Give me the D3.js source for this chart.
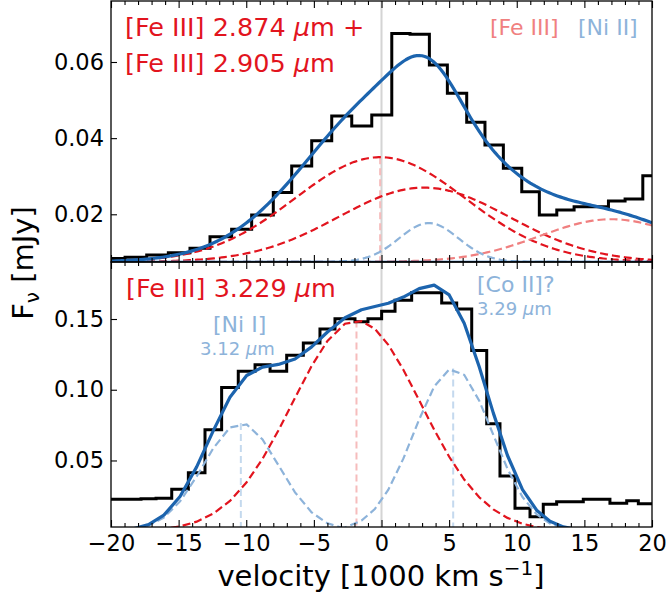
<!DOCTYPE html>
<html><head><meta charset="utf-8">
<script src="https://cdn.jsdelivr.net/npm/d3@7"></script>
<style>body{margin:0;background:#fff} text{font-family:"DejaVu Sans",sans-serif}</style>
</head><body><svg id="c" width="666" height="600"></svg>
<script>
// ---------------- data ----------------
const velRange = [-20, 20];
const xMajorTicks = [-20, -15, -10, -5, 0, 5, 10, 15, 20];
const xMinorTicks = [-19,-18,-17,-16,-14,-13,-12,-11,-9,-8,-7,-6,-4,-3,-2,-1,1,2,3,4,6,7,8,9,11,12,13,14,16,17,18,19];
const topYTicks = [0.02, 0.04, 0.06];
const botYTicks = [0.05, 0.10, 0.15];
const topYDomain = [0.00747, 0.07602];
const botYDomain = [0.00297, 0.1903];

// top panel histogram: bin edges (1000 km/s) and flux (mJy)
const topEdges = [-20, -18.96, -17.36, -15.76, -14.16, -12.68, -11.08, -9.60, -8.00, -6.64, -5.16, -3.68, -2.20, -0.72,
  0.76, 2.11, 3.54, 4.87, 6.30, 7.65, 9.01, 10.37, 11.67, 12.96, 14.24, 15.50, 16.78, 18.01, 19.32, 20];
const topFlux = [0.0084, 0.0087, 0.0093, 0.0099, 0.0111, 0.0141, 0.0161, 0.0198, 0.0257, 0.0327, 0.0393, 0.0458, 0.0432, 0.0461,
  0.0675, 0.0673, 0.0592, 0.0518, 0.0442, 0.0382, 0.0321, 0.0259, 0.0198, 0.0211, 0.0220, 0.0220, 0.0235, 0.0240, 0.0301];

// bottom panel histogram
const botEdges = [-20, -18.89, -17.78, -16.67, -15.51, -14.28, -13.05, -11.82, -10.59, -9.35, -8.24, -7.01, -5.78, -4.55, -3.44,
  -1.96, -1.00, 0.01, 1.00, 2.23, 3.34, 4.45, 5.56, 6.67, 7.78, 8.76, 9.87, 10.98, 11.96, 12.95, 13.94, 14.92, 15.91, 16.89,
  18.13, 18.99, 20];
const botFlux = [0.0226, 0.0226, 0.0230, 0.0233, 0.0297, 0.0414, 0.0717, 0.1016, 0.1130, 0.1177, 0.1130, 0.1243, 0.1331, 0.1430,
  0.1501, 0.1480, 0.1501, 0.1555, 0.1632, 0.1685, 0.1685, 0.1614, 0.1571, 0.1278, 0.0759, 0.0391, 0.0162, 0.0103, 0.0190,
  0.0209, 0.0209, 0.0226, 0.0226, 0.0197, 0.0216, 0.0194];

// Gaussian fit components (center [1000 km/s], sigma, amplitude [mJy])
const topContinuum = 0.0075;
const topCompNames   = ["[Fe III] 2.874", "[Fe III] 2.905", "[Fe III]", "[Ni II]"];
const topCompCenters = [-0.1, 3.14, 17.0, 3.5];
const topCompSigmas  = [6.3, 6.3, 5.3, 2.2];
const topCompAmps    = [0.0275, 0.0195, 0.0112, 0.0102];

const botContinuum = 0.0;
const botCompNames   = ["[Fe III] 3.229", "[Ni I] 3.12", "[Co II] 3.29"];
const botCompCenters = [-1.85, -10.4, 5.3];
const botCompSigmas  = [4.75, 2.8, 2.9];
const botCompAmps    = [0.149, 0.0764, 0.115];

// ---------------- drawing ----------------
const svg = d3.select('#c');
const TICK_FS = '22.5px', MAIN_FS = '25.5px', SUB_FS = '22px', SMALL_FS = '18px', AX_FS = '29px';
const RED = '#e2141e', PINK = '#f08080', LBLUE = '#8db3da', BLUE = '#1c64ae';
const PALE_RED = '#f6bcbc', PALE_BLUE = '#c4d9ee';

const x = d3.scaleLinear().domain(velRange).range([111, 652]);
const panels = [
  { y: d3.scaleLinear().domain(topYDomain).range([262, 1]), t: 1, b: 262, ticks: topYTicks, id: 'ct' },
  { y: d3.scaleLinear().domain(botYDomain).range([527, 262]), t: 262, b: 527, ticks: botYTicks, id: 'cb' }
];
const defs = svg.append('defs');
panels.forEach(p => {
  defs.append('clipPath').attr('id', p.id).append('rect')
    .attr('x', x(velRange[0])).attr('y', p.t).attr('width', x(velRange[1]) - x(velRange[0])).attr('height', p.b - p.t);
});

function gauss(v, c, s, a) { return a * Math.exp(-((v - c) * (v - c)) / (2 * s * s)); }

function drawPanel(p, edges, flux, cont, centers, sigmas, amps, colors, sampleV, vlines) {
  const g = svg.append('g').attr('clip-path', `url(#${p.id})`);
  g.append('line').attr('x1', x(0)).attr('x2', x(0)).attr('y1', p.t).attr('y2', p.b)
    .attr('stroke', '#d4d4d4').attr('stroke-width', 2);
  vlines.forEach(i => {
    g.append('line').attr('x1', x(centers[i])).attr('x2', x(centers[i]))
      .attr('y1', p.y(cont + amps[i])).attr('y2', p.b)
      .attr('stroke', colors[i] === RED ? PALE_RED : PALE_BLUE).attr('stroke-width', 2).attr('stroke-dasharray', '7,4');
  });
  const pts = flux.map((f, i) => [edges[i], f]);
  pts.push([edges[edges.length - 1], flux[flux.length - 1]]);
  g.append('path').datum(pts)
    .attr('d', d3.line().x(d => x(d[0])).y(d => p.y(d[1])).curve(d3.curveStepAfter))
    .attr('fill', 'none').attr('stroke', '#000').attr('stroke-width', 3);
  const line = d3.line().x(d => x(d[0])).y(d => p.y(d[1]));
  centers.forEach((c, i) => {
    const d = sampleV.map(v => [v, cont + gauss(v, c, sigmas[i], amps[i])]);
    g.append('path').datum(d).attr('d', line).attr('fill', 'none')
      .attr('stroke', colors[i]).attr('stroke-width', 2.2).attr('stroke-dasharray', '8,4');
  });
  const tot = sampleV.map(v => [v, cont + d3.sum(centers, (c, i) => gauss(v, c, sigmas[i], amps[i]))]);
  g.append('path').datum(tot).attr('d', line).attr('fill', 'none')
    .attr('stroke', BLUE).attr('stroke-width', 3.2).attr('stroke-linejoin', 'round');
  return g;
}

const topSample = d3.range(velRange[0], velRange[1] + 0.001, 0.2);
const gt = drawPanel(panels[0], topEdges, topFlux, topContinuum, topCompCenters, topCompSigmas, topCompAmps,
  [RED, RED, PINK, LBLUE], topSample, [0]);
gt.append('line').attr('x1', x(velRange[0])).attr('x2', x(velRange[1]))
  .attr('y1', panels[0].y(topContinuum)).attr('y2', panels[0].y(topContinuum))
  .attr('stroke', BLUE).attr('stroke-width', 2.5);

const botSample = [velRange[0]].concat(botFlux.map((f, i) => (botEdges[i] + botEdges[i + 1]) / 2)).concat([velRange[1]]);
drawPanel(panels[1], botEdges, botFlux, botContinuum, botCompCenters, botCompSigmas, botCompAmps,
  [RED, LBLUE, LBLUE], botSample, [0, 1, 2]);

function styleAxis(sel) {
  sel.select('.domain').remove();
  sel.selectAll('line').attr('stroke', '#000').attr('stroke-width', 1.1);
  sel.selectAll('text').attr('fill', '#000').style('font-size', TICK_FS).style('font-family', '"DejaVu Sans",sans-serif');
}
panels.forEach((p, k) => {
  const isBottom = k === 1;
  const ab = svg.append('g').attr('transform', `translate(0,${p.b})`)
    .call(d3.axisBottom(x).tickValues(xMajorTicks).tickSizeInner(-7).tickSizeOuter(0).tickPadding(8)
      .tickFormat(isBottom ? d3.format('d') : () => ''));
  styleAxis(ab);
  const abm = svg.append('g').attr('transform', `translate(0,${p.b})`)
    .call(d3.axisBottom(x).tickValues(xMinorTicks).tickSizeInner(-4).tickSizeOuter(0).tickFormat(() => ''));
  styleAxis(abm);
  const at = svg.append('g').attr('transform', `translate(0,${p.t})`)
    .call(d3.axisTop(x).tickValues(xMajorTicks).tickSizeInner(-7).tickSizeOuter(0).tickFormat(() => ''));
  styleAxis(at);
  const atm = svg.append('g').attr('transform', `translate(0,${p.t})`)
    .call(d3.axisTop(x).tickValues(xMinorTicks).tickSizeInner(-4).tickSizeOuter(0).tickFormat(() => ''));
  styleAxis(atm);
  const al = svg.append('g').attr('transform', `translate(${x(velRange[0])},0)`)
    .call(d3.axisLeft(p.y).tickValues(p.ticks).tickSizeInner(-6).tickSizeOuter(0).tickPadding(7).tickFormat(d3.format('.2f')));
  styleAxis(al);
  svg.append('rect').attr('x', x(velRange[0])).attr('y', p.t).attr('width', x(velRange[1]) - x(velRange[0]))
    .attr('height', p.b - p.t).attr('fill', 'none').attr('stroke', '#000').attr('stroke-width', 1.3);
});

function label(xp, yp, parts, color, size) {
  const t = svg.append('text').attr('x', xp).attr('y', yp).attr('fill', color).style('font-size', size);
  parts.forEach(s => {
    const sp = t.append('tspan').text(s.t);
    if (s.i) sp.style('font-style', 'italic');
  });
  return t;
}
label(125, 36, [{t: '[Fe III] 2.874 '}, {t: 'μ', i: 1}, {t: 'm +'}], RED, MAIN_FS);
label(125, 72, [{t: '[Fe III] 2.905 '}, {t: 'μ', i: 1}, {t: 'm'}], RED, MAIN_FS);
label(490, 35, [{t: '[Fe III]'}], PINK, SUB_FS);
label(578, 35, [{t: '[Ni II]'}], LBLUE, SUB_FS);
label(126, 297, [{t: '[Fe III] 3.229 '}, {t: 'μ', i: 1}, {t: 'm'}], RED, MAIN_FS);
label(213, 332, [{t: '[Ni I]'}], LBLUE, SUB_FS);
label(200, 355, [{t: '3.12 '}, {t: 'μ', i: 1}, {t: 'm'}], LBLUE, SMALL_FS);
label(477, 292, [{t: '[Co II]?'}], LBLUE, SUB_FS);
label(477, 315, [{t: '3.29 '}, {t: 'μ', i: 1}, {t: 'm'}], LBLUE, SMALL_FS);

const yl = svg.append('text').attr('transform', 'translate(33,263) rotate(-90)').attr('text-anchor', 'middle')
  .style('font-size', AX_FS).attr('fill', '#000');
yl.append('tspan').text('F');
yl.append('tspan').text('ν').attr('dy', 6).style('font-size', '20px');
yl.append('tspan').text(' [mJy]').attr('dy', -6);

const xl = svg.append('text').attr('x', 381).attr('y', 586).attr('text-anchor', 'middle')
  .style('font-size', AX_FS).attr('fill', '#000');
xl.append('tspan').text('velocity [1000 km s');
xl.append('tspan').text('−1').attr('dy', -11).style('font-size', '20px');
xl.append('tspan').text(']').attr('dy', 11);
</script></body></html>
